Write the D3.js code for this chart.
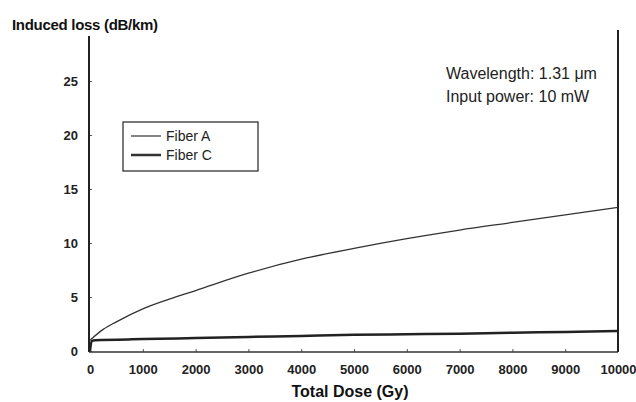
<!DOCTYPE html>
<html>
<head>
<meta charset="utf-8">
<script src="https://cdn.jsdelivr.net/npm/d3@7/dist/d3.min.js"></script>
<style>
  body { margin: 0; background: #fff; }
  text { font-family: "Liberation Sans", Arial, sans-serif; }
</style>
</head>
<body>
<svg id="chart" width="636" height="402"></svg>
<script>
// data
var doseA = [0, 250, 500, 1000, 1500, 2000, 3000, 4000, 5000, 6000, 7000, 8000, 9000, 10000];
var lossA = [1.0, 2.0, 2.7, 3.9, 4.8, 5.6, 7.2, 8.5, 9.5, 10.4, 11.2, 11.9, 12.6, 13.3];
var doseC = [0, 30, 100, 1000, 2000, 3000, 4000, 5000, 6000, 7000, 8000, 9000, 10000];
var lossC = [0.0, 0.9, 1.0, 1.1, 1.2, 1.3, 1.4, 1.5, 1.55, 1.6, 1.7, 1.75, 1.85];
var xTicks = [0, 1000, 2000, 3000, 4000, 5000, 6000, 7000, 8000, 9000, 10000];
var yTicks = [0, 5, 10, 15, 20, 25];
var seriesNames = ["Fiber A", "Fiber C"];
var notes = ["Wavelength: 1.31 \u03bcm", "Input power: 10 mW"];

var svg = d3.select("#chart");

var x = d3.scaleLinear().domain([0, 10000]).range([90, 618]);
var y = d3.scaleLinear().domain([0, 5]).range([351, 297]);

/*********** axes ***********/
var yAxis = svg.append("g").attr("transform", "translate(89,0)")
    .call(d3.axisLeft(y).tickValues(yTicks).tickSize(-3).tickPadding(11).tickFormat(d3.format("d")));
yAxis.select(".domain").remove();
yAxis.selectAll("text").attr("font-size", "13px").attr("font-weight", "bold").attr("fill", "#222");
yAxis.selectAll("line").attr("stroke", "#555");

var xAxis = svg.append("g").attr("transform", "translate(0,352)")
    .call(d3.axisBottom(x).tickValues(xTicks).tickSize(-3).tickPadding(13).tickFormat(d3.format("d")));
xAxis.select(".domain").remove();
xAxis.selectAll("text").attr("font-size", "13px").attr("font-weight", "bold").attr("fill", "#222");
xAxis.selectAll("line").attr("stroke", "#555");

// frame lines
svg.append("line").attr("x1", 89).attr("x2", 89).attr("y1", 36).attr("y2", 352)
    .attr("stroke", "#222").attr("stroke-width", 2);
svg.append("line").attr("x1", 89).attr("x2", 618).attr("y1", 352).attr("y2", 352)
    .attr("stroke", "#333").attr("stroke-width", 1.5);
svg.append("line").attr("x1", 618).attr("x2", 618).attr("y1", 30).attr("y2", 352)
    .attr("stroke", "#222").attr("stroke-width", 2);

/*********** curves ***********/
var line = d3.line().x(function(d){ return x(d[0]); }).y(function(d){ return y(d[1]); })
    .curve(d3.curveMonotoneX);

svg.append("path").datum(d3.zip(doseA, lossA)).attr("d", line)
    .attr("fill", "none").attr("stroke", "#333").attr("stroke-width", 1.3);
svg.append("path").datum(d3.zip(doseC, lossC)).attr("d", line)
    .attr("fill", "none").attr("stroke", "#222").attr("stroke-width", 2.5);

/*********** legend ***********/
var legend = svg.append("g");
legend.append("rect").attr("x", 123).attr("y", 122).attr("width", 135).attr("height", 49)
    .attr("fill", "none").attr("stroke", "#333").attr("stroke-width", 1.3);
seriesNames.forEach(function(name, i){
    var ly = 136 + i * 19;
    legend.append("line").attr("x1", 131).attr("x2", 161).attr("y1", ly).attr("y2", ly)
        .attr("stroke", "#333").attr("stroke-width", i == 0 ? 1.2 : 2.5);
    legend.append("text").attr("x", 166).attr("y", ly + 5).text(name)
        .attr("font-size", "14px").attr("fill", "#222");
});

/*********** notes and titles ***********/
notes.forEach(function(t, i){
    svg.append("text").attr("x", 446).attr("y", 79 + i * 23).text(t)
        .attr("font-size", "16px").attr("fill", "#222");
});

svg.append("text").attr("x", 12).attr("y", 30).text("Induced loss (dB/km)")
    .attr("font-size", "15px").attr("font-weight", "bold").attr("fill", "#111")
    .attr("letter-spacing", "-0.3px");
svg.append("text").attr("x", 350).attr("y", 397).attr("text-anchor", "middle").text("Total Dose (Gy)")
    .attr("font-size", "16px").attr("font-weight", "bold").attr("fill", "#111");
</script>
</body>
</html>
